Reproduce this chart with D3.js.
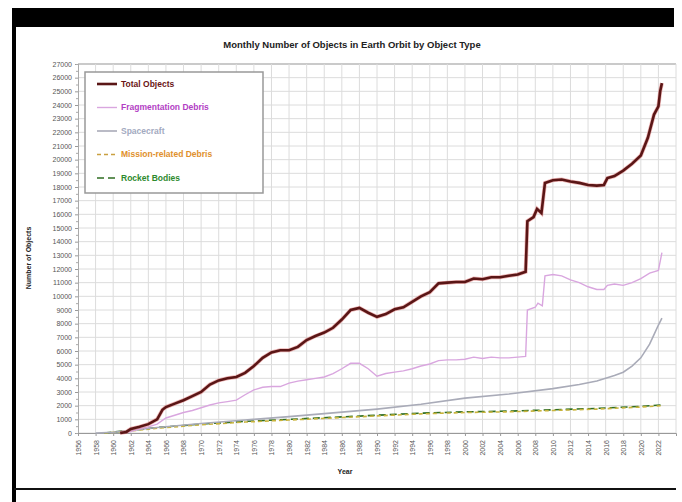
<!DOCTYPE html>
<html>
<head>
<meta charset="utf-8">
<script src="https://cdn.jsdelivr.net/npm/d3@7"></script>
<style>
  body { margin:0; background:#fff; }
  svg { display:block; font-family:"Liberation Sans", Arial, sans-serif; }
</style>
</head>
<body>
<div class="chart-container"></div>
<script>
// series data (year, number of objects)
var totalYears = [1960.8, 1961.5, 1962, 1963, 1964, 1965, 1965.6, 1966, 1967, 1968, 1969, 1970, 1971, 1972, 1973, 1974, 1975, 1976, 1977, 1978, 1979, 1980, 1981, 1982, 1983, 1984, 1985, 1986, 1987, 1988, 1989, 1990, 1991, 1992, 1993, 1994, 1995, 1996, 1997, 1998, 1999, 2000, 2001, 2002, 2003, 2004, 2005, 2006, 2006.9, 2007.1, 2007.8, 2008.2, 2008.7, 2009.1, 2010, 2011, 2012, 2013, 2014, 2015, 2015.8, 2016.2, 2017, 2018, 2019, 2020, 2020.8, 2021.5, 2022, 2022.2, 2022.4];
var totalVals = [0, 80, 300, 450, 650, 1000, 1700, 1900, 2150, 2400, 2700, 3000, 3550, 3850, 4000, 4100, 4400, 4900, 5500, 5900, 6050, 6050, 6300, 6800, 7100, 7350, 7700, 8300, 9000, 9150, 8800, 8500, 8700, 9050, 9200, 9600, 10000, 10300, 10950, 11000, 11050, 11050, 11300, 11250, 11400, 11400, 11500, 11600, 11800, 15500, 15800, 16400, 16100, 18300, 18500, 18550, 18400, 18300, 18150, 18100, 18150, 18650, 18800, 19200, 19700, 20300, 21600, 23300, 23900, 25000, 25600];

var fragYears = [1961, 1962, 1963, 1964, 1965, 1966, 1967, 1968, 1969, 1970, 1971, 1972, 1973, 1974, 1975, 1976, 1977, 1978, 1979, 1980, 1981, 1982, 1983, 1984, 1985, 1986, 1987, 1988, 1989, 1990, 1991, 1992, 1993, 1994, 1995, 1996, 1997, 1998, 1999, 2000, 2001, 2002, 2003, 2004, 2005, 2006, 2006.9, 2007.1, 2008, 2008.3, 2008.8, 2009.1, 2010, 2011, 2012, 2013, 2014, 2015, 2015.8, 2016.2, 2017, 2018, 2019, 2020, 2021, 2022, 2022.4];
var fragVals = [0, 100, 300, 450, 650, 1100, 1300, 1500, 1650, 1850, 2050, 2200, 2300, 2400, 2800, 3150, 3350, 3400, 3400, 3650, 3800, 3900, 4000, 4100, 4350, 4700, 5100, 5100, 4700, 4150, 4350, 4450, 4550, 4700, 4900, 5050, 5300, 5350, 5350, 5400, 5550, 5450, 5550, 5500, 5500, 5550, 5600, 9000, 9200, 9500, 9300, 11500, 11600, 11500, 11200, 11000, 10700, 10500, 10500, 10800, 10900, 10800, 11000, 11300, 11700, 11900, 13200];

var scYears = [1958, 1960, 1965, 1970, 1975, 1980, 1985, 1990, 1995, 2000, 2005, 2010, 2013, 2015, 2017, 2018, 2019, 2020, 2021, 2021.5, 2022, 2022.4];
var scVals = [0, 50, 400, 700, 950, 1200, 1470, 1750, 2100, 2550, 2850, 3250, 3550, 3800, 4200, 4450, 4900, 5500, 6500, 7200, 7900, 8400];

var mrdYears = [1959, 1962, 1965, 1970, 1975, 1980, 1985, 1990, 1995, 2000, 2005, 2010, 2015, 2020, 2022.4];
var mrdVals = [0, 150, 350, 600, 800, 950, 1100, 1250, 1400, 1500, 1550, 1650, 1750, 1900, 2000];

var rbYears = [1959, 1962, 1965, 1970, 1975, 1980, 1985, 1990, 1995, 2000, 2005, 2010, 2015, 2020, 2022.4];
var rbVals = [0, 200, 400, 650, 850, 1000, 1150, 1300, 1450, 1550, 1600, 1700, 1800, 1950, 2050];

var seriesNames = ["Total Objects", "Fragmentation Debris", "Spacecraft", "Mission-related Debris", "Rocket Bodies"];
var yTicks = d3.range(0, 27001, 1000);
var xTicks = d3.range(1956, 2023, 2);

var width = 682, height = 502;
var margin = {left:78, right:676, top:64, bottom:433};

var svg = d3.select(".chart-container")
  .append("svg")
  .attr("width", width)
  .attr("height", height);

// black frame of the screenshot
svg.append("rect").attr("x", 12).attr("y", 8).attr("width", 662).attr("height", 19).attr("fill", "#000");
svg.append("rect").attr("x", 12).attr("y", 8).attr("width", 4).attr("height", 494).attr("fill", "#000");
svg.append("rect").attr("x", 14).attr("y", 488).attr("width", 662).attr("height", 2).attr("fill", "#111");

var x = d3.scaleLinear().domain([1956, 2024]).range([margin.left, margin.right]);
var y = d3.scaleLinear().domain([0, 27000]).range([margin.bottom, margin.top]);

// grid
svg.append("g").selectAll("line")
  .data(yTicks)
  .enter()
  .append("line")
  .attr("x1", margin.left).attr("x2", margin.right)
  .attr("y1", function(d){ return y(d); })
  .attr("y2", function(d){ return y(d); })
  .attr("stroke", function(d){ return d == 27000 ? "#b8b8b8" : "#dcdcdc"; })
  .attr("stroke-width", function(d){ return d == 27000 ? 1.5 : 1; });

svg.append("g").selectAll("line")
  .data(d3.range(1958, 2025, 2))
  .enter()
  .append("line")
  .attr("x1", function(d){ return x(d); })
  .attr("x2", function(d){ return x(d); })
  .attr("y1", margin.top).attr("y2", margin.bottom)
  .attr("stroke", "#dcdcdc");

// axes
var yAxis = d3.axisLeft(y).tickValues(yTicks).tickSize(3).tickPadding(3).tickFormat(d3.format("d"));
var yg = svg.append("g").attr("transform", "translate(" + margin.left + ",0)").call(yAxis);
yg.selectAll("text").attr("font-size", "7px").attr("fill", "#555");
yg.select(".domain").attr("stroke", "#999");
yg.selectAll(".tick line").attr("stroke", "#999");
svg.append("g").attr("transform", "translate(" + margin.left + ",0)")
  .call(d3.axisLeft(y).tickValues(d3.range(500, 27000, 1000)).tickSize(2).tickFormat(""))
  .selectAll("line,path").attr("stroke", "#aaa");

var xAxis = d3.axisBottom(x).tickValues(xTicks).tickSize(3).tickFormat(d3.format("d"));
var xg = svg.append("g").attr("transform", "translate(0," + margin.bottom + ")").call(xAxis);
xg.select(".domain").attr("stroke", "#999");
xg.selectAll(".tick line").attr("stroke", "#999");
xg.selectAll("text")
  .attr("font-size", "7px")
  .attr("fill", "#555")
  .attr("transform", "rotate(-90)")
  .attr("text-anchor", "end")
  .attr("x", -7)
  .attr("y", 0)
  .attr("dy", "0.35em");

// titles
svg.append("text").attr("x", 352).attr("y", 48).attr("text-anchor", "middle")
  .attr("font-size", "9.5px").attr("font-weight", "bold").attr("fill", "#222")
  .text("Monthly Number of Objects in Earth Orbit by Object Type");
svg.append("text").attr("transform", "translate(31,258) rotate(-90)").attr("text-anchor", "middle")
  .attr("font-size", "7px").attr("font-weight", "bold").attr("fill", "#222")
  .text("Number of Objects");
svg.append("text").attr("x", 345).attr("y", 474).attr("text-anchor", "middle")
  .attr("font-size", "7px").attr("font-weight", "bold").attr("fill", "#222")
  .text("Year");

// lines
var series = [
  {name:seriesNames[4], xs:rbYears, ys:rbVals, color:"#2f6e22", w:1.6, dash:"7,4"},
  {name:seriesNames[3], xs:mrdYears, ys:mrdVals, color:"#c9b43c", w:1.6, dash:"4,3"},
  {name:seriesNames[2], xs:scYears, ys:scVals, color:"#a9abb8", w:1.6, dash:null},
  {name:seriesNames[1], xs:fragYears, ys:fragVals, color:"#d9a6df", w:1.4, dash:null},
  {name:seriesNames[0], xs:totalYears, ys:totalVals, color:"#5a1616", w:2.6, dash:null}
];

var line = d3.line()
  .x(function(d){ return x(d[0]); })
  .y(function(d){ return y(d[1]); });

series.forEach(function(s){
  var pts = d3.zip(s.xs, s.ys);
  if (s.name == "Total Objects") {
    svg.append("path").datum(pts).attr("d", line)
      .attr("fill", "none").attr("stroke", "#e07070").attr("stroke-width", 4).attr("stroke-opacity", 0.5);
  }
  svg.append("path").datum(pts).attr("d", line)
    .attr("fill", "none")
    .attr("stroke", s.color)
    .attr("stroke-width", s.w)
    .attr("stroke-dasharray", s.dash);
});

// legend
var legend = svg.append("g");
legend.append("rect").attr("x", 85).attr("y", 72).attr("width", 178).attr("height", 121)
  .attr("fill", "#fff").attr("stroke", "#999").attr("stroke-width", 1.5);
var legItems = [
  {name:seriesNames[0], color:"#5a1616", text:"#6a1515", w:2.6, dash:null},
  {name:seriesNames[1], color:"#d9a6df", text:"#b23ec4", w:1.4, dash:null},
  {name:seriesNames[2], color:"#a9abb8", text:"#a3aabf", w:1.6, dash:null},
  {name:seriesNames[3], color:"#c9a040", text:"#e0902c", w:1.6, dash:"4,3"},
  {name:seriesNames[4], color:"#2f6e22", text:"#2e8a2e", w:1.6, dash:"7,4"}
];
legend.selectAll("line")
  .data(legItems)
  .enter()
  .append("line")
  .attr("x1", 97).attr("x2", 117)
  .attr("y1", function(d, i){ return 84 + i * 23.5; })
  .attr("y2", function(d, i){ return 84 + i * 23.5; })
  .attr("stroke", function(d){ return d.color; })
  .attr("stroke-width", function(d){ return d.w; })
  .attr("stroke-dasharray", function(d){ return d.dash; });
legend.selectAll("text")
  .data(legItems)
  .enter()
  .append("text")
  .attr("x", 121)
  .attr("y", function(d, i){ return 84 + i * 23.5; })
  .attr("dy", "0.35em")
  .attr("font-size", "8.5px")
  .attr("font-weight", "bold")
  .attr("fill", function(d){ return d.text; })
  .text(function(d){ return d.name; });
</script>
</body>
</html>
